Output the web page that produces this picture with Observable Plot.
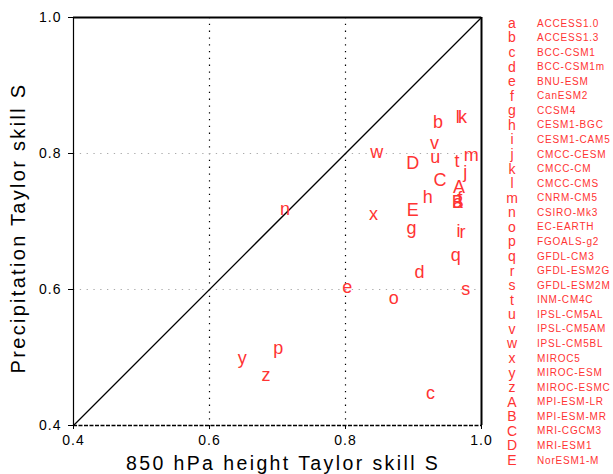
<!DOCTYPE html>
<html><head><meta charset="utf-8">
<script src="https://cdn.jsdelivr.net/npm/d3@7"></script>
<script src="https://cdn.jsdelivr.net/npm/@observablehq/plot@0.6"></script>
<style>
html,body{margin:0;padding:0;background:#fff;}
g[aria-label="x-axis tick label"] text, g[aria-label="y-axis tick label"] text {letter-spacing:1px}
</style></head><body><div id="chart"></div>
<script>
const labels = ["a","b","c","d","e","f","g","h","i","j","k","l","m","n","o","p","q","r","s","t","u","v","w","x","y","z","A","B","C","D","E"];
const models = ["ACCESS1.0","ACCESS1.3","BCC-CSM1","BCC-CSM1m","BNU-ESM","CanESM2","CCSM4","CESM1-BGC","CESM1-CAM5","CMCC-CESM","CMCC-CM","CMCC-CMS","CNRM-CM5","CSIRO-Mk3","EC-EARTH","FGOALS-g2","GFDL-CM3","GFDL-ESM2G","GFDL-ESM2M","INM-CM4C","IPSL-CM5AL","IPSL-CM5AM","IPSL-CM5BL","MIROC5","MIROC-ESM","MIROC-ESMC","MPI-ESM-LR","MPI-ESM-MR","MRI-CGCM3","MRI-ESM1","NorESM1-M"];
const heightSkill = [0.965,0.936,0.925,0.909,0.8025,0.968,0.897,0.921,0.966,0.976,0.972,0.965,0.985,0.711,0.871,0.701,0.962,0.972,0.977,0.964,0.932,0.931,0.846,0.841,0.648,0.683,0.967,0.965,0.939,0.899,0.899];
const precipSkill = [0.729,0.846,0.447,0.626,0.604,0.734,0.690,0.735,0.686,0.772,0.853,0.854,0.797,0.718,0.587,0.513,0.650,0.684,0.600,0.788,0.795,0.815,0.8025,0.710,0.499,0.474,0.751,0.729,0.761,0.786,0.717];
const ticks = [0.4, 0.6, 0.8, 1.0];
const gridValues = [0.6, 0.8];
const diagonal = [0.4, 1.0];
const xTitle = "850 hPa height Taylor skill S";
const yTitle = "Precipitation Taylor skill S";

const points = labels.map((l, i) => ({label: l, x: heightSkill[i], y: precipSkill[i]}));
const red = "#ff3333";
const font = "'Liberation Sans', Arial, Helvetica, sans-serif";

const chart = Plot.plot({
  width: 613, height: 474,
  marginLeft: 73, marginRight: 132, marginTop: 17, marginBottom: 49,
  x: {domain: [0.4, 1.0]},
  y: {domain: [0.4, 1.0]},
  style: {fontFamily: font, background: "#fff", overflow: "visible"},
  marks: [
    Plot.ruleX(gridValues, {stroke: "#000", strokeDasharray: "1.3,5.5", strokeWidth: 1.2}),
    Plot.ruleY(gridValues, {stroke: "#aaa", strokeDasharray: "1.3,5.5", strokeWidth: 1.2}),
    Plot.line(diagonal, {x: d => d, y: d => d, stroke: "#000", strokeWidth: 1.3}),
    Plot.ruleX([0.4], {stroke: "#000", strokeWidth: 1.2}),
    Plot.ruleX([1.0], {stroke: "#000", strokeWidth: 2}),
    Plot.ruleY([1.0], {stroke: "#000", strokeWidth: 2}),
    Plot.ruleY([0.4], {stroke: "#000", strokeWidth: 1.5, strokeDasharray: "4,1.5"}),
    Plot.axisX(ticks, {tickFormat: d3.format(".1f"), tickSize: 4, tickPadding: 6, fontSize: 14, label: null}),
    Plot.axisY(ticks, {tickFormat: d3.format(".1f"), tickSize: 5, tickPadding: 7, fontSize: 14, label: null}),
    Plot.text(points, {x: "x", y: "y", text: "label", fill: red, fontSize: 18})
  ]
});

const svg = d3.select(chart);
svg.append("text")
  .attr("x", 283).attr("y", 470)
  .attr("text-anchor", "middle")
  .attr("font-size", 19.5).attr("letter-spacing", "2.4px")
  .attr("fill", "#000")
  .text(xTitle);
svg.append("text")
  .attr("transform", "translate(18,228) rotate(-90)")
  .attr("dy", "0.35em")
  .attr("text-anchor", "middle")
  .attr("font-size", 20).attr("letter-spacing", "2.3px")
  .attr("fill", "#000")
  .text(yTitle);

const legend = svg.append("g").attr("fill", red);
labels.forEach((l, i) => {
  const yy = 23 + i * 14.57;
  legend.append("text").attr("x", 512).attr("y", yy).attr("dy", "0.35em")
    .attr("text-anchor", "middle").attr("font-size", 14).text(l);
  legend.append("text").attr("x", 537).attr("y", yy).attr("dy", "0.35em")
    .attr("text-anchor", "start")
    .attr("font-size", 10).attr("letter-spacing", "0.8px").text(models[i]);
});

document.getElementById("chart").appendChild(chart);
</script></body></html>
